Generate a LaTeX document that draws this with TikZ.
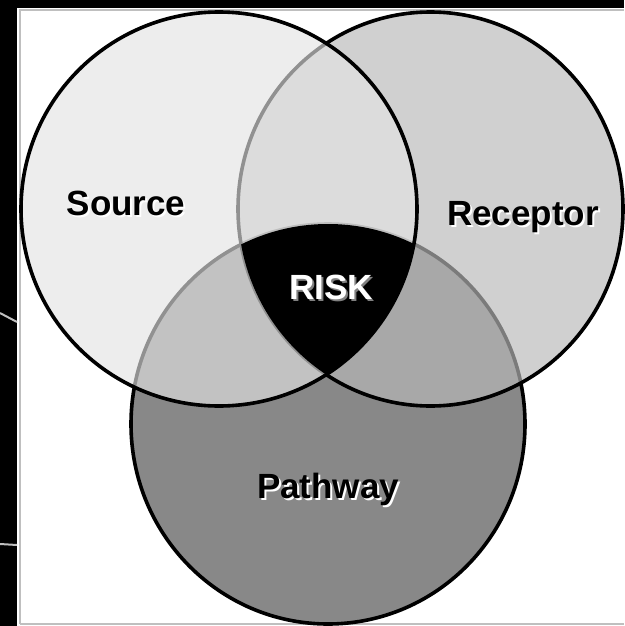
\documentclass[tikz,border=0pt]{standalone}
\usepackage{fontspec}
\setmainfont{Liberation Sans}
\usepackage{xcolor}

\definecolor{srcgray}{gray}{0.895}
\definecolor{recgray}{gray}{0.724}
\definecolor{pathgray}{gray}{0.533}
\definecolor{framegray}{gray}{0.75}

% text with a soft offset copy behind it
\newcommand{\shadowtext}[2]{\makebox[0pt][l]{\hspace{2pt}\raisebox{-2pt}{\textcolor{#1}{#2}}}#2}

\begin{document}
\begin{tikzpicture}[x=1pt, y=-1pt]

            % Settings
            \def\lw{3.6pt}
            \tikzset{
                vennlabel/.style={anchor=base, inner sep=0pt, font=\bfseries\fontsize{35}{40}\selectfont},
                srcshape/.style={x radius=198pt, y radius=197pt},
                recshape/.style={x radius=192.5pt, y radius=197pt},
                pathshape/.style={x radius=197pt, y radius=200pt}
            }

            % Frame
            \useasboundingbox (0,0) rectangle (624,626);
            \fill[black] (0,0) rectangle (624,626);
            \fill[white] (17,8) rectangle (624,626);
            \draw[framegray, line width=1.5pt] (20,624) -- (20,10) -- (624,10);
            \draw[framegray, line width=1.5pt] (20,624) -- (624,624);
            \draw[framegray, line width=2pt] (0,313) -- (17,322);
            \draw[framegray, line width=2pt] (0,544) -- (17,545);

            % Centres
            \coordinate (pathway) at (328,424);
            \coordinate (receptor) at (430.5,209);
            \coordinate (source) at (219,209);

            % Circles, bottom one first
            \draw[line width=\lw, fill=pathgray] (pathway) ellipse [pathshape];
            \draw[line width=\lw, fill=recgray, fill opacity=0.666] (receptor) ellipse [recshape];
            \draw[line width=\lw, fill=srcgray, fill opacity=0.64] (source) ellipse [srcshape];

            % Where all three meet
            \begin{scope}
                \clip (source) ellipse [srcshape];
                \clip (receptor) ellipse [recshape];
                \fill[black] (pathway) ellipse [pathshape];
            \end{scope}

            % Labels
            \foreach \name/\x/\y/\txt in {src/126/215/Source, rec/523/225/Receptor, pth/328/498/Pathway} {
                    \node[vennlabel] (\name) at (\x,\y) {\shadowtext{white}{\txt}};
                }
            \node[vennlabel, white] (risk) at (331,299) {\shadowtext{gray}{RISK}};
        \end{tikzpicture}
\end{document}
